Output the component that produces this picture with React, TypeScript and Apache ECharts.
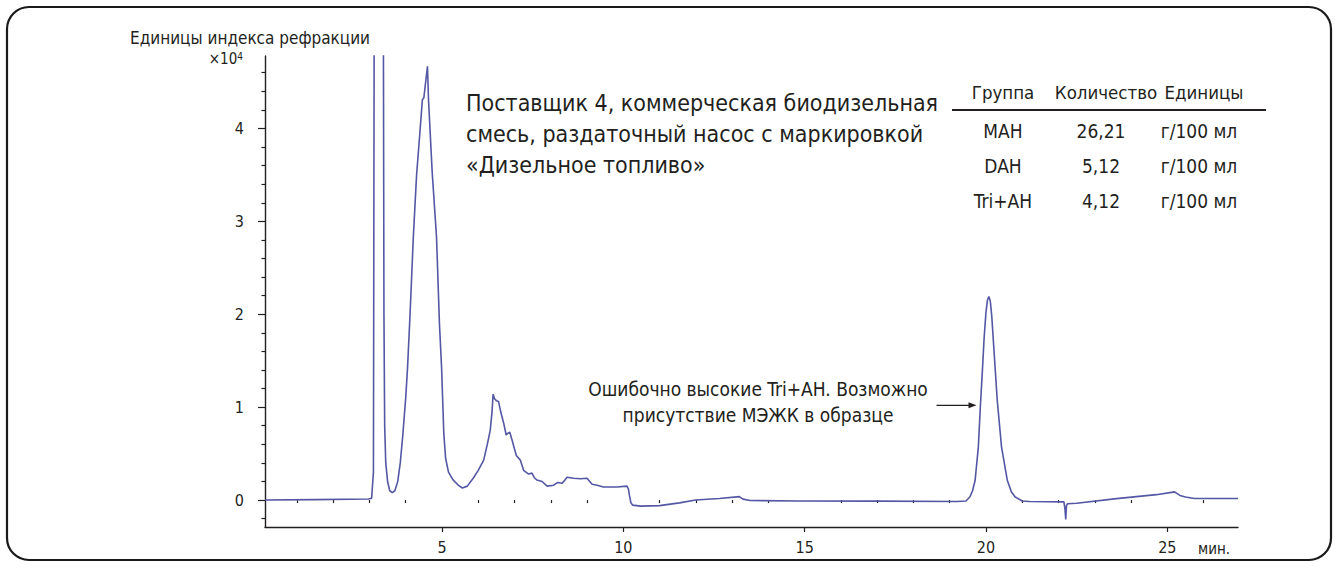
import React, { useEffect, useRef } from "react";
import * as echarts from "echarts";

// Retention time, min
const retentionTimes = [
  0.12, 1.5, 2.97, 3.06, 3.11, 3.13, 3.26, 3.385, 3.40, 3.42, 3.45, 3.5, 3.56, 3.63,
  3.7, 3.78, 3.85, 3.92, 4.0, 4.05, 4.12, 4.21, 4.3, 4.38, 4.46, 4.5, 4.55, 4.6,
  4.63, 4.73, 4.85, 4.93, 4.99, 5.05, 5.1, 5.18, 5.3, 5.45, 5.56, 5.7, 5.87, 6.0,
  6.15, 6.25, 6.33, 6.38, 6.41, 6.45, 6.5, 6.56, 6.62, 6.7, 6.77, 6.82, 6.87, 6.93,
  7.0, 7.05, 7.16, 7.25, 7.39, 7.48, 7.55, 7.62, 7.76, 7.9, 8.08, 8.19, 8.31, 8.38,
  8.45, 8.63, 8.82, 9.0, 9.14, 9.28, 9.45, 9.82, 10.1, 10.14, 10.17, 10.21, 10.26,
  10.47, 11.0, 11.55, 11.99, 12.65, 13.2, 13.3, 13.5, 14.8, 17.0, 19.2, 19.45,
  19.56, 19.63, 19.7, 19.79, 19.85, 19.9, 19.95, 20.0, 20.04, 20.08, 20.12, 20.16,
  20.21, 20.26, 20.31, 20.43, 20.59, 20.7, 20.8, 21.0, 21.2, 22.15, 22.18, 22.2,
  22.22, 22.25, 22.5, 23.6, 24.7, 25.2, 25.35, 25.5, 25.75, 26.95,
];

// Refractive index detector signal, ×10^4 units
const signal = [
  0.0, 0.005, 0.012, 0.02, 0.3, 5.0, 14.0, 5.0, 2.0, 0.8, 0.4, 0.2, 0.1, 0.08,
  0.1, 0.2, 0.4, 0.7, 1.1, 1.42, 2.0, 2.83, 3.5, 3.9, 4.31, 4.33, 4.5, 4.67,
  4.3, 3.53, 2.83, 1.9, 1.42, 0.72, 0.45, 0.3, 0.22, 0.16, 0.13, 0.15, 0.24, 0.32,
  0.43, 0.6, 0.75, 0.95, 1.14, 1.09, 1.07, 1.06, 0.95, 0.83, 0.7, 0.72, 0.73, 0.65,
  0.55, 0.48, 0.43, 0.32, 0.28, 0.29, 0.24, 0.215, 0.2, 0.15, 0.16, 0.19, 0.18, 0.21,
  0.245, 0.235, 0.23, 0.235, 0.17, 0.16, 0.14, 0.14, 0.15, 0.12, 0.05, -0.03, -0.055,
  -0.065, -0.06, -0.03, 0.0, 0.016, 0.037, 0.01, -0.005, -0.01, -0.012, -0.015, -0.01,
  0.035, 0.1, 0.21, 0.57, 1.04, 1.38, 1.75, 2.02, 2.15, 2.19, 2.14, 1.98,
  1.68, 1.38, 1.08, 0.57, 0.21, 0.09, 0.035, -0.01, -0.015, -0.02, -0.1, -0.21,
  -0.06, -0.04, -0.035, 0.015, 0.058, 0.088, 0.05, 0.033, 0.016, 0.016,
];

const yLabelValues = [0, 1, 2, 3, 4];
const yMinorValues = [-0.2, 0.2, 0.4, 0.6, 0.8, 1.2, 1.4, 1.6, 1.8, 2.2, 2.4, 2.6, 2.8, 3.2, 3.4, 3.6, 3.8, 4.2, 4.4, 4.6];
const xLabelValues = [5, 10, 15, 20, 25];
const xMinorValues = [1, 2, 3, 4, 6, 7, 8, 9, 11, 12, 13, 14, 16, 17, 18, 19, 21, 22, 23, 24, 26];

const titleLines = [
  "Поставщик 4, коммерческая биодизельная",
  "смесь, раздаточный насос с маркировкой",
  "«Дизельное топливо»",
];
const tableHeaders = ["Группа", "Количество", "Единицы"];
const groups = ["MAH", "DAH", "Tri+AH"];
const amounts = ["26,21", "5,12", "4,12"];
const units = ["г/100 мл", "г/100 мл", "г/100 мл"];
const noteLines = ["Ошибочно высокие Tri+AH. Возможно", "присутствие МЭЖК в образце"];
const notePoint = [19.74, 1.02];

const FONT = "'Liberation Sans Narrow', 'DejaVu Sans Condensed', sans-serif";
const INK = "#231f20";
const TRACE = "#5457a4";

export default function App() {
  const ref = useRef<HTMLDivElement>(null);

  useEffect(() => {
    if (!ref.current) return;
    const chart = echarts.init(ref.current, null, { renderer: "svg" });

    const xRange = { min: 0.12, max: 26.95 };
    const yRange = { min: -0.29, max: 4.78 };

    chart.setOption({
      animation: false,
      backgroundColor: "#ffffff",
      grid: { left: 265, right: 101, top: 56, bottom: 41, containLabel: false },
      xAxis: [
        {
          type: "value",
          ...xRange,
          axisLine: { show: true, onZero: false, lineStyle: { color: INK, width: 1.4 } },
          axisTick: { show: true, customValues: xLabelValues, length: 5, lineStyle: { color: INK, width: 1.2 } },
          axisLabel: { customValues: xLabelValues, color: INK, fontSize: 16, fontFamily: FONT, margin: 12 },
          splitLine: { show: false },
        },
        {
          type: "value",
          ...xRange,
          position: "bottom",
          axisLine: { show: false },
          axisTick: { show: true, customValues: xMinorValues, length: 3, lineStyle: { color: INK, width: 1.2 } },
          axisLabel: { show: false },
          splitLine: { show: false },
        },
      ],
      yAxis: [
        {
          type: "value",
          ...yRange,
          axisLine: { show: true, onZero: false, lineStyle: { color: INK, width: 1.4 } },
          axisTick: { show: true, customValues: yLabelValues, length: 7, lineStyle: { color: INK, width: 1.2 } },
          axisLabel: { customValues: yLabelValues, color: INK, fontSize: 16, fontFamily: FONT, margin: 21 },
          splitLine: { show: false },
        },
        {
          type: "value",
          ...yRange,
          position: "left",
          axisLine: { show: false },
          axisTick: { show: true, customValues: yMinorValues, length: 3.5, lineStyle: { color: INK, width: 1.2 } },
          axisLabel: { show: false },
          splitLine: { show: false },
        },
      ],
      series: [
        {
          type: "line",
          xAxisIndex: 0,
          yAxisIndex: 0,
          data: retentionTimes.map((t, i) => [t, signal[i]]),
          showSymbol: false,
          smooth: false,
          clip: true,
          lineStyle: { color: TRACE, width: 1.6 },
        },
      ],
    });

    const tip = chart.convertToPixel({ xAxisIndex: 0, yAxisIndex: 0 }, notePoint) as number[];
    const txt = (text: string, x: number, y: number, size: number, align = "left") => ({
      type: "text",
      x,
      y,
      style: { text, fill: INK, font: `${size}px ${FONT}`, textAlign: align, textVerticalAlign: "middle" },
    });

    const graphics: any[] = [
      {
        type: "rect",
        shape: { x: 7, y: 7, width: 1324, height: 553, r: 22 },
        style: { fill: "none", stroke: "#1a1a1a", lineWidth: 2.2 },
      },
      txt("Единицы индекса рефракции", 130, 38, 17),
      {
        type: "text",
        x: 243,
        y: 59,
        style: {
          text: "{b|×10}{s|4}",
          textAlign: "right",
          textVerticalAlign: "middle",
          rich: {
            b: { fill: INK, font: `15px ${FONT}` },
            s: { fill: INK, font: `10px ${FONT}`, verticalAlign: "top", padding: [0, 0, 6, 0] },
          },
        },
      },
      txt("мин.", 1214, 549, 15, "center"),
      ...titleLines.map((l, i) => txt(l, 466, 103 + i * 31, 23)),
      {
        type: "line",
        shape: { x1: 952, y1: 110, x2: 1266, y2: 110 },
        style: { stroke: INK, lineWidth: 2 },
      },
    ];
    const colX = [1003, 1106, 1204];
    tableHeaders.forEach((h, i) => graphics.push(txt(h, colX[i], 92, 18.5, "center")));
    const rowY = [131, 166, 201];
    groups.forEach((g, i) => {
      graphics.push(txt(g, colX[0], rowY[i], 19, "center"));
      graphics.push(txt(amounts[i], 1101, rowY[i], 19, "center"));
      graphics.push(txt(units[i], 1199, rowY[i], 19, "center"));
    });
    noteLines.forEach((l, i) => graphics.push(txt(l, 758, 389 + i * 26, 19, "center")));
    graphics.push({
      type: "line",
      shape: { x1: tip[0] - 40, y1: tip[1], x2: tip[0] - 6, y2: tip[1] },
      style: { stroke: INK, lineWidth: 1.3 },
    });
    graphics.push({
      type: "polygon",
      shape: { points: [[tip[0], tip[1]], [tip[0] - 8, tip[1] - 3], [tip[0] - 8, tip[1] + 3]] },
      style: { fill: INK },
    });

    chart.setOption({ graphic: graphics });

    return () => chart.dispose();
  }, []);

  return (
    <div style={{ position: "fixed", left: 0, top: 0, width: 1339, height: 568, background: "#fff" }}>
      <div ref={ref} style={{ width: 1339, height: 568 }} />
    </div>
  );
}
